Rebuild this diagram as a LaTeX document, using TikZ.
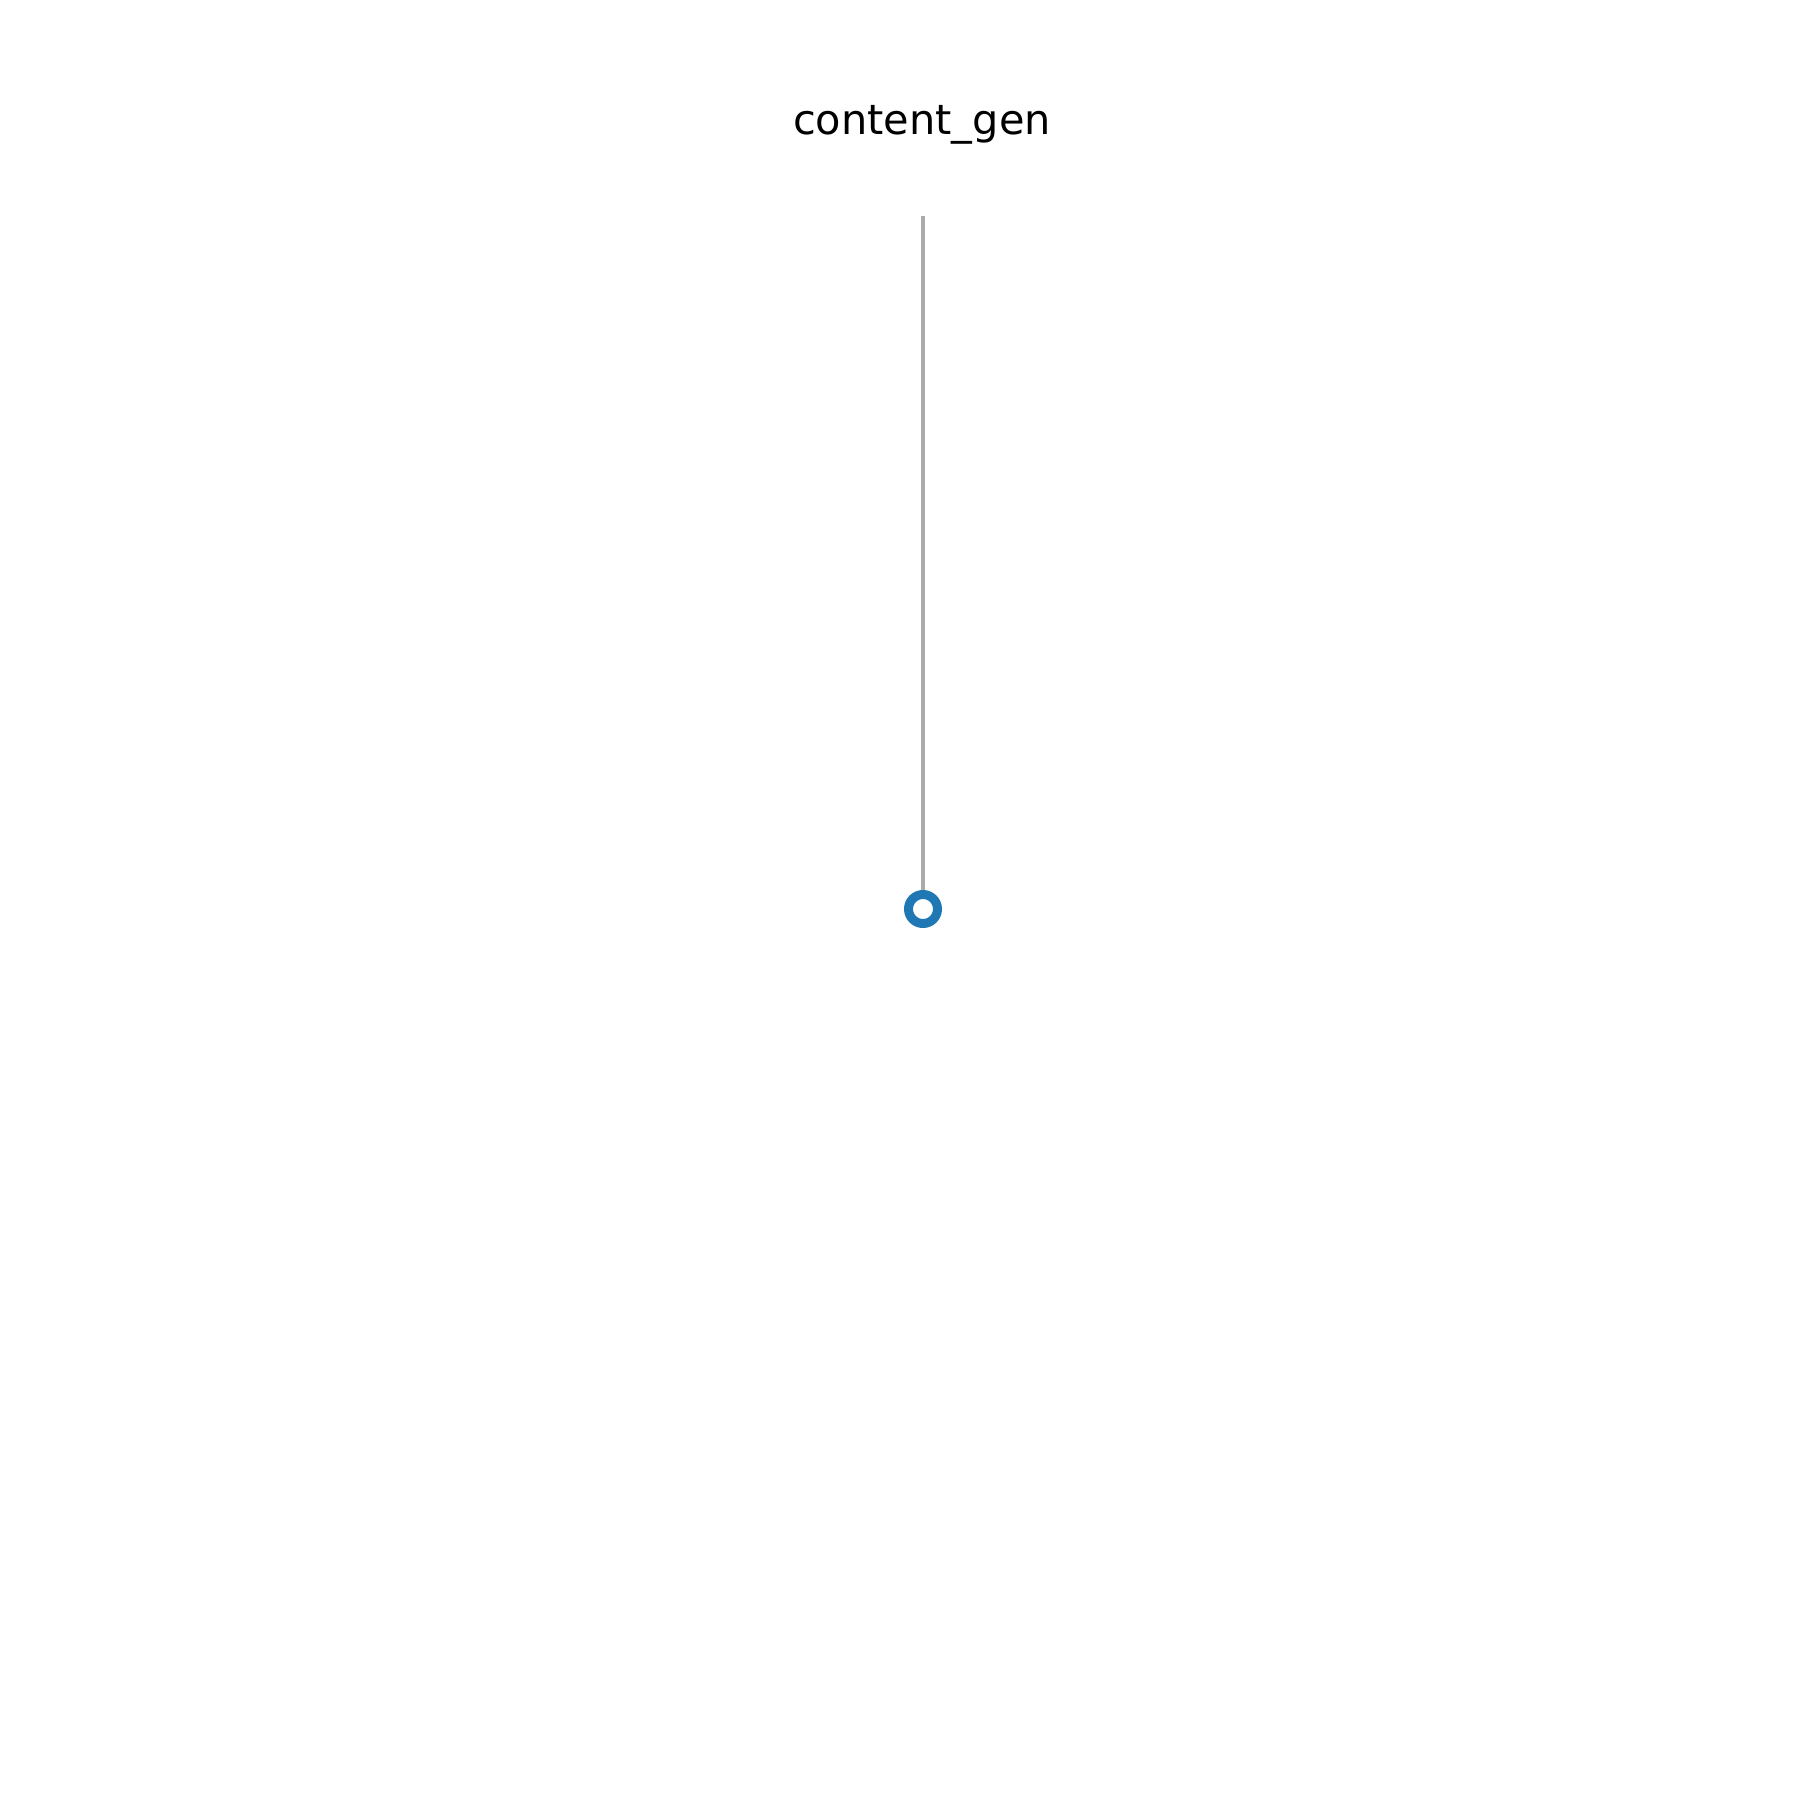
\documentclass[tikz,border=0pt]{standalone}
\usepackage{fontspec}
\setmainfont{DejaVu Sans}
\definecolor{nodeblue}{HTML}{1F77B4}
\definecolor{edgegray}{HTML}{ABABAB}
\tikzset{
  vertex/.style={circle, draw=nodeblue, fill=white, line width=2.56pt, minimum size=0.29cm, inner sep=0pt},
  edge/.style={draw=edgegray, line width=0.9pt},
  titletext/.style={font=\fontsize{11.8}{14}\selectfont, anchor=base, inner sep=0pt}
}
\begin{document}
\begin{tikzpicture}
\useasboundingbox[fill=white] (0,0) rectangle (18,-18);
\node[titletext] (title) at (9.22,-1.34) {content\_gen};
\coordinate (top) at (9.23,-2.16);
\node[vertex] (n) at (9.23,-9.09) {};
\draw[edge] (top) -- (n);
\end{tikzpicture}
\end{document}
